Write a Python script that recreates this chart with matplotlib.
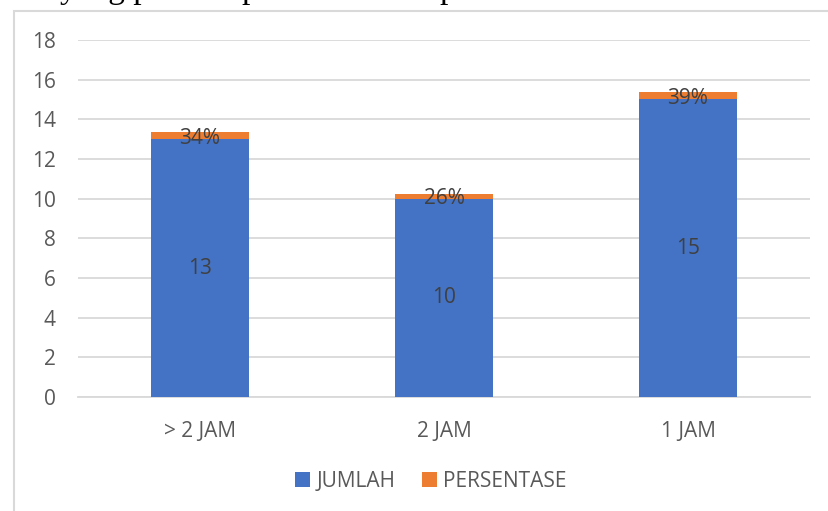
import matplotlib
matplotlib.use("Agg")
import matplotlib.pyplot as plt
from matplotlib.patches import Rectangle

# Data
kategori = ["> 2 JAM", "2 JAM", "1 JAM"]
jumlah = [13, 10, 15]
persentase = [0.34, 0.26, 0.39]
label_persen = ["34%", "26%", "39%"]

BIRU = "#4472C4"
ORANYE = "#ED7D31"
TEKS = "#595959"
GRID = "#d9d9d9"
FS = 15

plt.rcParams["font.family"] = ["Open Sans", "DejaVu Sans"]

W, H = 829, 511
fig = plt.figure(figsize=(W / 100, H / 100), dpi=100)

# bingkai grafik (hanya tepi kiri dan atas yang terlihat)
fig.patches.append(Rectangle((14 / W, -0.1), 1.2, 1 - 11 / H + 0.1,
                             transform=fig.transFigure, fill=False,
                             edgecolor=GRID, lw=1.5))

# sisa baris teks di atas grafik, terpotong di tepi atas
for x, s in [(60, "yang p"), (241, "p"), (439, "p")]:
    fig.text(x / W, 1 + 2 / H, s, family="Liberation Serif", fontsize=24,
             va="baseline", color="black")

ax = fig.add_axes([78 / W, 1 - 397 / H, (810 - 78) / W, (397 - 40) / H])
x = range(len(kategori))
lebar = 0.4
ax.bar(x, jumlah, lebar, color=BIRU, label="JUMLAH", zorder=3)
ax.bar(x, persentase, lebar, bottom=jumlah, color=ORANYE, label="PERSENTASE", zorder=3)

for i in x:
    ax.text(i, jumlah[i] / 2, str(jumlah[i]), ha="center", va="center",
            fontsize=FS, color="#404040", zorder=4)
    ax.text(i, jumlah[i] + persentase[i] / 2, label_persen[i], ha="center",
            va="center_baseline", fontsize=FS, color="#404040", zorder=4)

ax.set_xlim(-0.5, 2.5)
ax.set_ylim(0, 18)
ax.set_yticks(range(0, 19, 2))
ax.set_xticks(list(x))
ax.set_xticklabels(kategori)
ax.yaxis.grid(True, color=GRID, lw=1.3, zorder=0)
ax.set_axisbelow(True)
for s in ["top", "right", "left"]:
    ax.spines[s].set_visible(False)
ax.spines["bottom"].set_color(GRID)
ax.spines["bottom"].set_linewidth(1.3)
ax.tick_params(axis="both", length=0, labelsize=FS, colors=TEKS)
ax.tick_params(axis="y", pad=16)
ax.tick_params(axis="x", pad=17)

fig.legend(loc="center", bbox_to_anchor=(431 / W, 1 - 481 / H), ncol=2,
           frameon=False, fontsize=FS, labelcolor=TEKS, handlelength=0.7,
           handleheight=0.7, handletextpad=0.3, columnspacing=1.3)

fig.savefig("out.png", dpi=100)
